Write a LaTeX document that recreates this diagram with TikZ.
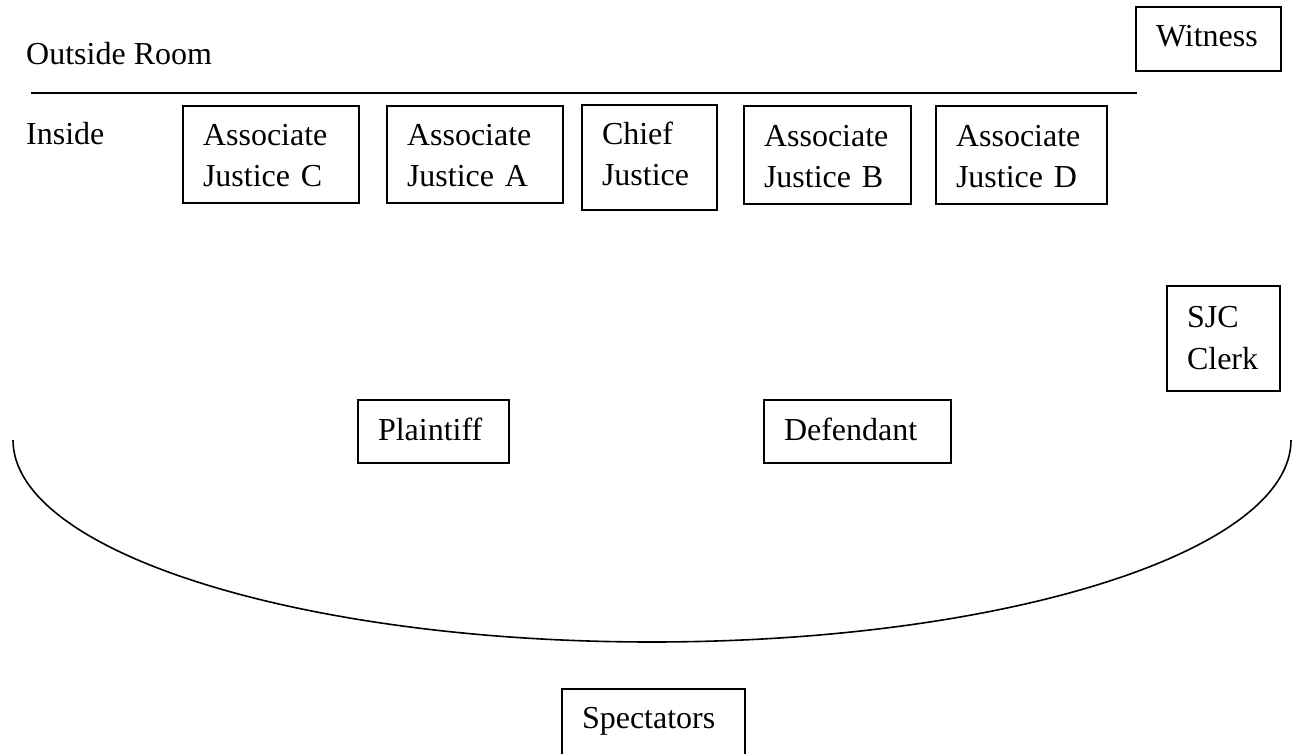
\documentclass[tikz,border=0pt]{standalone}
\usepackage{fontspec}
\setmainfont{Liberation Serif}
\newcommand\lsa{\rule[-8pt]{0pt}{40pt}}
\newcommand\lsc{\rule[-12pt]{0pt}{40pt}}
\newcommand\lss{\rule[-10.5pt]{0pt}{40pt}}
\begin{document}
\begin{tikzpicture}[x=1pt,y=-1pt,
  box/.style={draw,line width=1.6pt,inner xsep=20pt,inner ysep=0pt,align=left,font=\fontsize{32}{41}\selectfont},
  one/.style={text height=23pt,text depth=6pt},
  lbl/.style={anchor=base west,inner sep=0pt,font=\fontsize{32}{41}\selectfont},
  rule/.style={line width=1.5pt},
  arcline/.style={line width=1.6pt}]
\useasboundingbox (0,0) rectangle (1294,754);

% labels and the room divider
\node[lbl] (outside) at (26,65) {Outside Room};
\node[lbl] (inside) at (26,145) {Inside};
\coordinate (lineL) at (31,93);
\coordinate (lineR) at (1137,93);
\draw[rule] (lineL) -- (lineR);

% outside
\node[box, minimum width=145pt, minimum height=64pt, text width=105pt, text height=22pt, text depth=6pt] (witness) at (1208.5,39) {Witness};

% bench
\node[box, minimum width=176pt, minimum height=97pt, text width=136pt] (ajc) at (271,154.5) {\lsa Associate\\\lsa Justice C};
\node[box, minimum width=176pt, minimum height=97pt, text width=136pt] (aja) at (475,154.5) {\lsa Associate\\\lsa Justice A};
\node[box, minimum width=135pt, minimum height=105pt, text width=95pt] (cj) at (649.5,157.5) {\lsc Chief\\\lsc Justice};
\node[box, minimum width=167pt, minimum height=98pt, text width=127pt] (ajb) at (827.5,155) {\lsa Associate\\\lsa Justice B};
\node[box, minimum width=171pt, minimum height=98pt, text width=131pt] (ajd) at (1021.5,155) {\lsa Associate\\\lsa Justice D};

% clerk
\node[box, font=\fontsize{32}{42}\selectfont, minimum width=113pt, minimum height=105pt, text width=73pt] (clerk) at (1223.5,338.5) {\lss SJC\\\lss Clerk};

% parties
\node[box, one, minimum width=151pt, minimum height=63pt, text width=111pt] (plaintiff) at (433.5,431.5) {Plaintiff};
\node[box, one, minimum width=187pt, minimum height=63pt, text width=147pt] (defendant) at (857.5,431.5) {Defendant};

% bar (half ellipse)
\coordinate (barL) at (13,440);
\coordinate (barM) at (652,642);
\coordinate (barR) at (1291,440);
\draw[arcline] (barL) .. controls (13,551.6) and (299.1,642) .. (barM)
  .. controls (1004.9,642) and (1291,551.6) .. (barR);

% spectators
\node[box, minimum width=183pt, minimum height=69pt, text width=143pt, text height=20pt, text depth=11pt] (spect) at (653.5,723.5) {Spectators};
\end{tikzpicture}
\end{document}
